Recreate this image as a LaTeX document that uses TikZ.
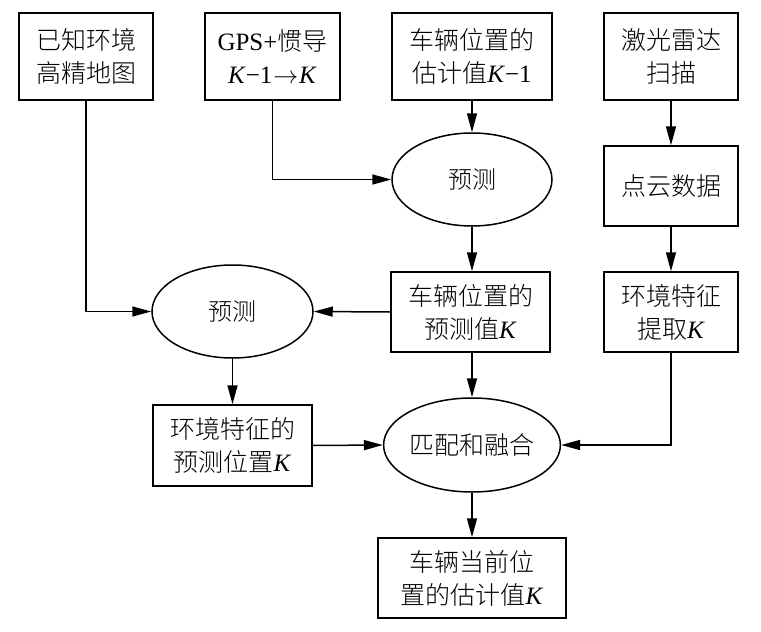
\documentclass[tikz,border=0pt]{standalone}
\usepackage{fontspec}
\setmainfont{Liberation Serif}
\newfontfamily\cjk{Noto Sans CJK SC}[UprightFont=* Light]
\usetikzlibrary{shapes.geometric,arrows.meta}
\newcommand\zh[1]{{\cjk #1}}
\newcommand\KK{\textit{K}}
\begin{document}
\begin{tikzpicture}[x=1pt,y=-1pt,
  every node/.style={inner sep=0pt, align=center, font=\fontsize{25}{33}\selectfont},
  box/.style={draw, line width=1.5pt, rectangle},
  ell/.style={draw, line width=1.5pt, ellipse},
  arr/.style={line width=1.5pt, -{Triangle[length=19pt,width=10pt]}}]
\useasboundingbox (0,0) rectangle (761,632);
\node[box, minimum width=134pt, minimum height=87pt] (b1) at (86,56.5) {\zh{已知环境}\\\zh{高精地图}};
\node[box, minimum width=135pt, minimum height=87pt] (b2) at (272.5,56.5) {GPS+\zh{惯导}\\\KK−1\kern1pt$\rightarrow$\kern1pt\KK};
\node[box, minimum width=160pt, minimum height=87pt] (b3) at (472,56.5) {\zh{车辆位置的}\\\zh{估计值}\KK−1};
\node[box, minimum width=134pt, minimum height=87pt] (b4) at (671,56.5) {\zh{激光雷达}\\\zh{扫描}};
\node[ell, minimum width=160pt, minimum height=93pt, font=\fontsize{24}{30}\selectfont] (e1) at (472,179.5) {\zh{预测}};
\node[box, minimum width=134pt, minimum height=80pt] (pc) at (671,186) {\zh{点云数据}};
\node[box, minimum width=159pt, minimum height=80pt] (b5) at (470.5,312) {\zh{车辆位置的}\\\zh{预测值}\KK};
\node[ell, minimum width=161pt, minimum height=93pt, font=\fontsize{24}{30}\selectfont] (e2) at (232.5,311.5) {\zh{预测}};
\node[box, minimum width=134pt, minimum height=80pt] (b6) at (671,312) {\zh{环境特征}\\\zh{提取}\KK};
\node[box, minimum width=159pt, minimum height=81pt] (b7) at (232.5,445.5) {\zh{环境特征的}\\\zh{预测位置}\KK};
\node[ell, minimum width=160pt, minimum height=94pt] (e3) at (472,445) {\zh{匹配和融合}};
\node[box, minimum width=188pt, minimum height=80pt] (b8) at (472,578) {\zh{车辆当前位}\\\zh{置的估计值}\KK};
\draw[arr] (b1.south) |- (e2.west);
\draw[arr] (b2.south) |- (e1.west);
\draw[arr] (b3) -- (e1);
\draw[arr] (e1) -- (e1 |- b5.north);
\draw[arr] (b5.west) -- (e2.east);
\draw[arr] (e2) -- (b7);
\draw[arr] (b7.east) -- (e3.west);
\draw[arr] (b5.south -| e3) -- (e3);
\draw[arr] (e3) -- (b8);
\draw[arr] (b4) -- (pc);
\draw[arr] (pc) -- (b6);
\draw[arr] (b6.south) |- (e3.east);
\end{tikzpicture}
\end{document}
